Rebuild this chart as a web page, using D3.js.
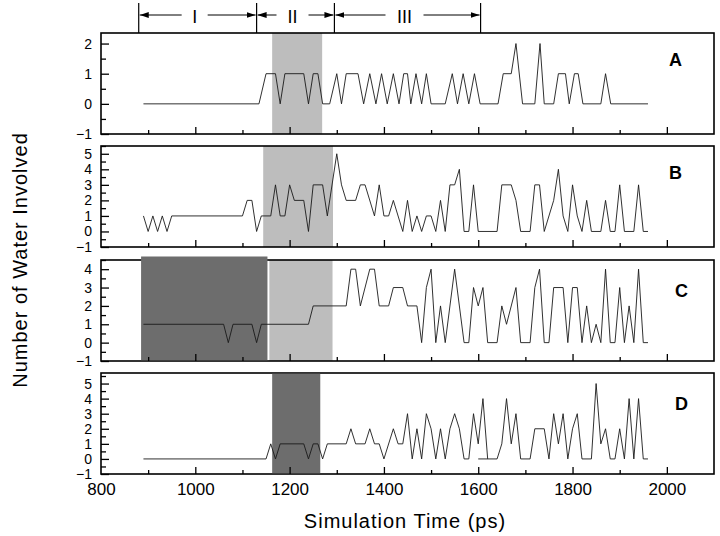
<!DOCTYPE html>
<html>
<head>
<meta charset="utf-8">
<script src="https://cdn.jsdelivr.net/npm/d3@7"></script>
<style>
  body { margin: 0; background: #fff; }
  svg { font-family: "Liberation Sans", Arial, sans-serif; }
</style>
</head>
<body>
<div id="chart"></div>
<script>
// ---- data (time in ps, number of waters) ----
const panelNames = ["A", "B", "C", "D"];
const yTopValues = [2.35, 5.5, 4.5, 5.7];
const yTickLabels = [[-1, 0, 1, 2], [-1, 0, 1, 2, 3, 4, 5], [-1, 0, 1, 2, 3, 4], [-1, 0, 1, 2, 3, 4, 5]];
const xTickLabels = [800, 1000, 1200, 1400, 1600, 1800, 2000];
const xMinorTicks = [900, 1100, 1300, 1500, 1700, 1900];

const regionBounds = [880, 1130, 1295, 1605];
const regionLabels = ["I", "II", "III"];

const waterA = [[890,0],[1135,0],[1150,1],[1170,1],[1180,0],[1190,1],[1230,1],[1240,0],[1250,1],[1260,1],[1270,0],
  [1285,0],[1300,1],[1310,0],[1320,1],[1345,1],[1357,0],[1370,1],[1383,0],[1395,1],[1407,0],[1420,1],[1432,0],
  [1442,1],[1450,1],[1457,0],[1468,1],[1480,0],[1490,1],[1500,0],[1530,0],[1545,1],[1556,0],[1568,1],[1580,0],
  [1592,1],[1604,0],[1642,0],[1653,1],[1670,1],[1680,2],[1694,0],[1720,0],[1731,2],[1740,0],[1760,0],[1770,1],
  [1785,1],[1793,0],[1804,1],[1812,1],[1822,0],[1860,0],[1870,1],[1881,0],[1960,0]];

const waterB = [[890,1],[900,0],[910,1],[920,0],[930,1],[940,0],[950,1],[1100,1],[1110,2],[1120,2],[1130,0],
  [1140,1],[1160,1],[1170,3],[1180,1],[1190,1],[1200,3],[1210,2],[1230,2],[1240,0],[1250,3],[1270,3],[1280,1],
  [1300,5],[1310,3],[1320,2],[1340,2],[1350,3],[1360,3],[1380,1],[1390,3],[1400,1],[1410,1],[1420,2],[1440,0],
  [1450,2],[1460,0],[1470,1],[1480,0],[1490,1],[1500,1],[1510,0],[1520,2],[1530,0],[1540,3],[1550,3],[1560,4],
  [1570,0],[1580,0],[1590,3],[1600,0],[1640,0],[1650,3],[1670,3],[1680,2],[1690,0],[1710,0],[1720,3],[1730,3],
  [1740,0],[1760,2],[1770,4],[1780,1],[1790,0],[1800,3],[1810,1],[1820,0],[1830,2],[1840,0],[1860,0],[1870,2],
  [1880,0],[1890,0],[1900,3],[1910,0],[1930,0],[1940,3],[1950,0],[1960,0]];

const waterC = [[890,1],[1060,1],[1070,0],[1080,1],[1120,1],[1130,0],[1140,1],[1240,1],[1250,2],[1320,2],
  [1330,4],[1340,4],[1350,2],[1370,4],[1380,4],[1390,2],[1410,2],[1420,3],[1440,3],[1450,2],[1470,2],[1480,0],
  [1490,3],[1500,4],[1510,0],[1520,2],[1530,0],[1550,4],[1570,0],[1580,0],[1590,3],[1600,2],[1610,3],[1620,0],
  [1640,0],[1650,2],[1660,1],[1680,3],[1690,0],[1710,0],[1720,3],[1730,4],[1740,0],[1750,0],[1760,3],[1780,3],
  [1790,0],[1800,3],[1810,3],[1820,0],[1830,2],[1840,0],[1850,1],[1860,0],[1870,4],[1880,0],[1890,0],[1900,3],
  [1910,0],[1920,2],[1930,0],[1940,4],[1950,0],[1960,0]];

const waterD1 = [[890,0],[1150,0],[1160,1],[1170,0],[1180,1],[1230,1],[1240,0],[1250,1],[1260,1],[1270,0],
  [1280,1],[1320,1],[1330,2],[1340,1],[1360,1],[1370,2],[1380,1],[1390,1],[1400,0],[1420,2],[1430,1],[1440,1],
  [1450,3],[1460,0],[1470,2],[1480,0],[1490,3],[1500,2],[1510,0],[1520,2],[1530,0],[1540,2],[1550,3],[1560,2],
  [1570,0],[1580,0],[1590,3],[1600,1],[1610,4],[1620,0]];
const waterD2 = [[1600,0],[1640,0],[1650,1],[1660,4],[1670,1],[1680,3],[1690,0],[1710,0],[1720,2],[1740,2],
  [1750,0],[1760,3],[1770,1],[1780,3],[1790,0],[1800,2],[1810,3],[1820,0],[1840,0],[1850,5],[1860,1],[1870,2],
  [1880,0],[1890,0],[1900,2],[1910,0],[1920,4],[1930,0],[1940,4],[1950,0],[1960,0]];

const seriesByPanel = [[waterA], [waterB], [waterC], [waterD1, waterD2]];

// shaded windows (ps)
const shadesA = [{ from: 1163, to: 1269, tone: "light" }];
const shadesB = [{ from: 1144, to: 1292, tone: "light" }];
const shadesC = [{ from: 1157, to: 1291, tone: "light" }, { from: 885, to: 1153, tone: "dark" }];
const shadesD = [{ from: 1163, to: 1265, tone: "dark" }];
const shadesByPanel = [shadesA, shadesB, shadesC, shadesD];

// ---- layout ----
const W = 720, H = 536;
const panelTop = [33, 146, 260, 373];
const panelH = 101;
const labelPos = [[669, 66], [669, 179], [675, 297], [675, 410]];
const toneColor = { light: "#bdbdbd", dark: "#6d6d6d" };

const svg = d3.select("#chart").append("svg").attr("width", W).attr("height", H);
const x = d3.scaleLinear().domain([800, 2100]).range([101, 714]);

svg.append("defs").append("marker")
    .attr("id", "arrow").attr("markerUnits", "userSpaceOnUse")
    .attr("markerWidth", 9).attr("markerHeight", 6)
    .attr("refX", 9).attr("refY", 3).attr("orient", "auto")
  .append("path").attr("d", "M0,0 L9,3 L0,6 Z").attr("fill", "#000");

// region brackets at the top
const ann = svg.append("g");
ann.selectAll("line.bound").data(regionBounds).join("line")
    .attr("x1", d => x(d)).attr("x2", d => x(d))
    .attr("y1", 3).attr("y2", panelTop[0])
    .attr("stroke", "#000").attr("stroke-width", 1.2);

regionLabels.forEach((lab, i) => {
  const x0 = x(regionBounds[i]), x1 = x(regionBounds[i + 1]);
  const mid = (x0 + x1) / 2 - 3;
  const gap = 10 + lab.length * 3;
  ann.append("line").attr("x1", mid - gap).attr("x2", x0 + 1).attr("y1", 15).attr("y2", 15)
      .attr("stroke", "#000").attr("stroke-width", 1).attr("marker-end", "url(#arrow)");
  ann.append("line").attr("x1", mid + gap).attr("x2", x1 - 1).attr("y1", 15).attr("y2", 15)
      .attr("stroke", "#000").attr("stroke-width", 1).attr("marker-end", "url(#arrow)");
  ann.append("text").attr("x", mid).attr("y", 16.5).attr("dy", "0.35em")
      .attr("text-anchor", "middle").style("font-size", "18px").text(lab);
});

panelNames.forEach((name, i) => {
  const top = panelTop[i], bottom = top + panelH;
  const y = d3.scaleLinear().domain([-1, yTopValues[i]]).range([bottom, top]);
  const g = svg.append("g");

  // light shading under the frame
  g.selectAll("rect.light").data(shadesByPanel[i].filter(s => s.tone === "light")).join("rect")
      .attr("x", d => x(d.from)).attr("width", d => x(d.to) - x(d.from))
      .attr("y", top).attr("height", panelH).attr("fill", toneColor.light);

  g.append("rect").attr("x", x(800)).attr("y", top)
      .attr("width", x(2100) - x(800)).attr("height", panelH)
      .attr("fill", "none").attr("stroke", "#000").attr("stroke-width", 1.6);

  // dark shading (in C it pokes above the frame)
  g.selectAll("rect.dark").data(shadesByPanel[i].filter(s => s.tone === "dark")).join("rect")
      .attr("x", d => x(d.from)).attr("width", d => x(d.to) - x(d.from))
      .attr("y", name === "C" ? top - 3.5 : top + 0.8)
      .attr("height", name === "C" ? panelH + 2.7 : panelH - 1.6)
      .attr("fill", toneColor.dark);

  // y axis, ticks pointing inward
  const yMinor = d3.range(-0.5, yTopValues[i] + 0.01, 1);
  const yAxis = g.append("g").attr("transform", `translate(${x(800)},0)`)
      .call(d3.axisLeft(y).tickValues(yTickLabels[i]).tickSize(-8).tickPadding(9).tickFormat(d3.format("d")));
  g.append("g").attr("transform", `translate(${x(800)},0)`)
      .call(d3.axisLeft(y).tickValues(yMinor).tickSize(-5).tickFormat(""));

  // x axis ticks on each panel
  const xAxis = g.append("g").attr("transform", `translate(0,${bottom})`)
      .call(d3.axisBottom(x).tickValues(xTickLabels).tickSize(-7).tickPadding(9)
        .tickFormat(name === "D" ? d3.format("d") : ""));
  g.append("g").attr("transform", `translate(0,${bottom})`)
      .call(d3.axisBottom(x).tickValues(xMinorTicks).tickSize(-4).tickFormat(""));

  g.selectAll(".domain").remove();
  g.selectAll(".tick line").attr("stroke", "#000").attr("stroke-width", 1.3);
  yAxis.selectAll("text").style("font-size", "14px").attr("fill", "#000")
      .style("font-family", "'Liberation Sans', Arial, sans-serif");
  xAxis.selectAll("text").style("font-size", "17px").attr("fill", "#000")
      .style("font-family", "'Liberation Sans', Arial, sans-serif");
  xAxis.selectAll(".tick").filter(d => d === 800).select("line").remove();

  const line = d3.line().x(d => x(d[0])).y(d => y(d[1]));
  g.selectAll("path.series").data(seriesByPanel[i]).join("path")
      .attr("class", "series")
      .attr("d", line).attr("fill", "none")
      .attr("stroke", "#1a1a1a").attr("stroke-width", 0.9);

  g.append("text").attr("x", labelPos[i][0]).attr("y", labelPos[i][1])
      .style("font-size", "18px").style("font-weight", "bold").text(name);
});

svg.append("text").attr("x", 405).attr("y", 528).attr("text-anchor", "middle")
    .style("font-size", "20px").style("letter-spacing", "1px").text("Simulation Time (ps)");

svg.append("text").attr("transform", "translate(27,260) rotate(-90)").attr("text-anchor", "middle")
    .style("font-size", "20px").style("letter-spacing", "1px").text("Number of Water Involved");
</script>
</body>
</html>
